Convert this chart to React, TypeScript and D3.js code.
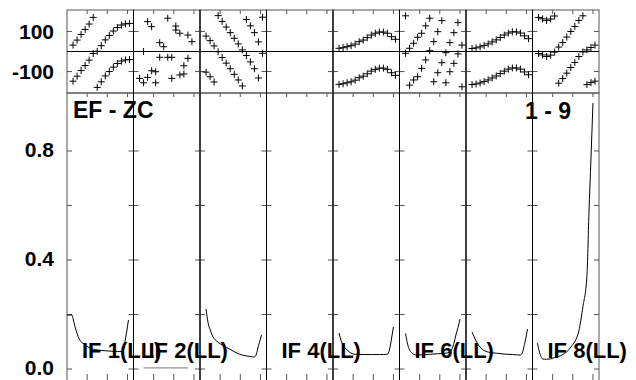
import React from "react";
import * as d3 from "d3";

const W = 636;
const H = 380;

// panel labels (only some are printed in the reference)
const ifLabels = ["IF 1(LL)", "IF 2(LL)", "", "IF 4(LL)", "", "IF 6(LL)", "", "IF 8(LL)"];

// channel numbers of the phase points
const channels = [1, 2, 3, 4, 5, 6, 7, 8, 9, 10, 11, 12, 13, 14, 15];
const xTicks = [4.5, 9.5, 14.5];

// phase (degrees), two points per channel
const phaseA1 = [32, 57, 85, 110, 137, 170, -179, -151, -122, -100, -78, -60, -48, -42, -40];
const phaseB1 = [-148, -123, -95, -70, -43, -10, 1, 29, 58, 80, 102, 120, 132, 138, 140];
const phaseA2 = [-134, 0, 149, 124, -156, 44, 24, 166, -134, 127, 91, -71, 82, 49, null];
const phaseB2 = [null, -156, -129, -96, -101, -29, null, -29, -29, 107, -117, -112, -34, null, null];
const phaseA3 = [77, 54, 28, -1, -30, -58, -86, -114, -142, -172, 160, 128, 94, 48, -9];
const phaseB3 = [-103, -126, -152, 179, 150, 122, 94, 66, 38, 8, -20, -52, -86, -132, 171];
const phaseA4 = [];
const phaseB4 = [];
const phaseA5 = [16, 19, 24, 29, 37, 49, 57, 69, 82, 91, 97, 97, 91, 74, 61];
const phaseB5 = [-164, -161, -156, -151, -143, -131, -123, -111, -98, -89, -83, -83, -89, -106, -119];
const phaseA6 = [-9, 16, 41, 71, 91, 128, 166, -151, -106, -56, -6, 44, 94, 144, -176];
const phaseB6 = [178, -168, -142, -126, -84, -42, 4, 49, 99, 154, -156, -101, -59, -12, 32];
const phaseA7 = [15, 18, 23, 30, 38, 48, 58, 70, 82, 92, 98, 98, 92, 78, 64];
const phaseB7 = [-165, -162, -157, -150, -142, -132, -122, -110, -98, -88, -82, -82, -88, -102, -116];
const phaseA8 = [-10, -17, -25, -18, -3, 22, 45, 72, 100, 125, 155, 178, -165, -155, -148];
const phaseB8 = [170, 163, 155, 162, 177, -158, -135, -108, -80, -55, -25, -2, 8, 20, 32];

// amplitude, sampled on a shared channel grid (null = no data)
const ampCh = [-0.5, 0.75, 1, 1.5, 2, 2.5, 3, 4, 5, 7, 9, 11, 12, 13, 13.5, 14, 14.5, 14.75];
const amp1 = [0.198, 0.198, 0.185, 0.155, 0.13, 0.112, 0.1, 0.09, 0.078, 0.07, 0.067, 0.065, 0.064, 0.064, 0.07, 0.11, 0.155, 0.18];
const amp2 = [null, null, null, null, 0.004, 0.004, 0.004, 0.004, 0.004, 0.004, 0.004, 0.004, 0.004, 0.004, null, null, null, null];
const amp3 = [null, null, 0.22, 0.17, 0.145, 0.125, 0.112, 0.098, 0.088, 0.072, 0.056, 0.048, 0.046, 0.044, 0.055, 0.085, 0.11, 0.125];
const amp4 = [];
const amp5 = [null, null, 0.132, 0.105, 0.088, 0.077, 0.07, 0.058, 0.054, 0.053, 0.053, 0.053, 0.053, 0.054, 0.07, 0.11, 0.155, null];
const amp6 = [null, null, 0.13, 0.092, 0.07, 0.06, 0.054, 0.051, 0.052, 0.054, 0.056, 0.058, 0.062, 0.095, 0.125, 0.152, 0.183, null];
const amp7 = [null, null, 0.136, 0.118, 0.103, 0.09, 0.08, 0.068, 0.062, 0.058, 0.055, 0.053, 0.052, 0.051, 0.06, 0.09, 0.125, 0.147];
const amp8 = [null, 0.095, 0.075, 0.05, 0.037, 0.036, 0.036, 0.037, 0.042, 0.053, 0.08, 0.14, 0.228, 0.34, 0.57, 0.77, 0.976, null];

const phasesA = [phaseA1, phaseA2, phaseA3, phaseA4, phaseA5, phaseA6, phaseA7, phaseA8];
const phasesB = [phaseB1, phaseB2, phaseB3, phaseB4, phaseB5, phaseB6, phaseB7, phaseB8];
const amps = [amp1, amp2, amp3, amp4, amp5, amp6, amp7, amp8];

const phaseTicks = [100, -100];
const ampTicks = [0, 0.2, 0.4, 0.6, 0.8];
const ampTickLabels = [0, 0.4, 0.8];

const FONT = "'Liberation Sans', Arial, sans-serif";

export default function App() {
  const panelX = d3.scaleLinear().domain([0, 8]).range([67, 599]);
  const yPhase = d3.scaleLinear().domain([-207, 207]).range([93, 10]);
  const yAmp = d3.scaleLinear().domain([0, 0.4]).range([369, 260]);
  const ampTop = yPhase(-207);
  const ampBottom = 382;
  const frame = "#555";

  const plus = "M-3.5,0H3.5M0,-3.5V3.5";

  return (
    <svg
      width={W}
      height={H}
      style={{ position: "absolute", left: 0, top: 0, background: "#fff" }}
      fontFamily={FONT}
    >
      {amps.map((amp, i) => {
        const x0 = panelX(i);
        const x1 = panelX(i + 1);
        const x = d3.scaleLinear().domain([-0.5, 16]).range([x0, x1]);
        const line = d3
          .line<number | null>()
          .defined((d) => d !== null)
          .x((_, k) => x(ampCh[k]))
          .y((d) => yAmp(d as number))
          .curve(d3.curveMonotoneX);
        const pts: [number, number][] = [];
        phasesA[i].forEach((p, k) => {
          if (p !== null) pts.push([channels[k], p]);
        });
        phasesB[i].forEach((p, k) => {
          if (p !== null) pts.push([channels[k], p]);
        });
        return (
          <g key={i}>
            {/* frames */}
            <rect x={x0} y={yPhase(207)} width={x1 - x0} height={yPhase(-207) - yPhase(207)} fill="none" stroke={frame} />
            <rect x={x0} y={ampTop} width={x1 - x0} height={ampBottom - ampTop} fill="none" stroke={frame} />
            {/* x ticks */}
            {xTicks.map((t) => (
              <g key={t} stroke={frame}>
                <line x1={x(t)} x2={x(t)} y1={yPhase(207)} y2={yPhase(207) + 4} />
                <line x1={x(t)} x2={x(t)} y1={ampTop} y2={ampTop + 4} />
                <line x1={x(t)} x2={x(t)} y1={ampBottom} y2={ampBottom - 8} />
              </g>
            ))}
            {/* y ticks */}
            {phaseTicks.map((t) => (
              <g key={t} stroke={frame}>
                <line x1={x0} x2={x0 + 5} y1={yPhase(t)} y2={yPhase(t)} />
                <line x1={x1 - 5} x2={x1} y1={yPhase(t)} y2={yPhase(t)} />
              </g>
            ))}
            {ampTicks.map((t) => (
              <g key={t} stroke={frame}>
                <line x1={x0} x2={x0 + 5} y1={yAmp(t)} y2={yAmp(t)} />
                <line x1={x1 - 5} x2={x1} y1={yAmp(t)} y2={yAmp(t)} />
              </g>
            ))}
            {/* phase points */}
            {pts.map(([c, p], k) => (
              <path key={k} d={plus} transform={`translate(${x(c)},${yPhase(p)})`} stroke="#000" strokeWidth={1} fill="none" />
            ))}
            {/* amplitude */}
            {amp.length > 0 && (
              <path d={line(amp) || ""} fill="none" stroke={i === 1 ? "#777" : "#000"} strokeWidth={1} />
            )}
          </g>
        );
      })}
      {/* zero phase line */}
      <line x1={panelX(0)} x2={panelX(8)} y1={yPhase(0)} y2={yPhase(0)} stroke="#000" />
      {/* panel separators */}
      {d3.range(1, 8).map((i) => (
        <line key={i} x1={panelX(i)} x2={panelX(i)} y1={yPhase(207)} y2={ampBottom} stroke="#000" />
      ))}
      {/* axis labels */}
      {phaseTicks.map((t) => (
        <text key={t} x={54} y={yPhase(t)} dy="0.36em" textAnchor="end" fontSize={21} fontWeight="bold">
          {t}
        </text>
      ))}
      {ampTickLabels.map((t) => (
        <text key={t} x={54} y={yAmp(t)} dy="0.3em" textAnchor="end" fontSize={21} fontWeight="bold">
          {d3.format(".1f")(t)}
        </text>
      ))}
      <text x={73} y={118} fontSize={23} fontWeight="bold">EF - ZC</text>
      <text x={525} y={119} fontSize={23} fontWeight="bold">1 - 9</text>
      {ifLabels.map((l, i) =>
        l ? (
          <text key={i} x={panelX(i) + 15} y={358} fontSize={22} fontWeight="bold">
            {l}
          </text>
        ) : null
      )}
    </svg>
  );
}
